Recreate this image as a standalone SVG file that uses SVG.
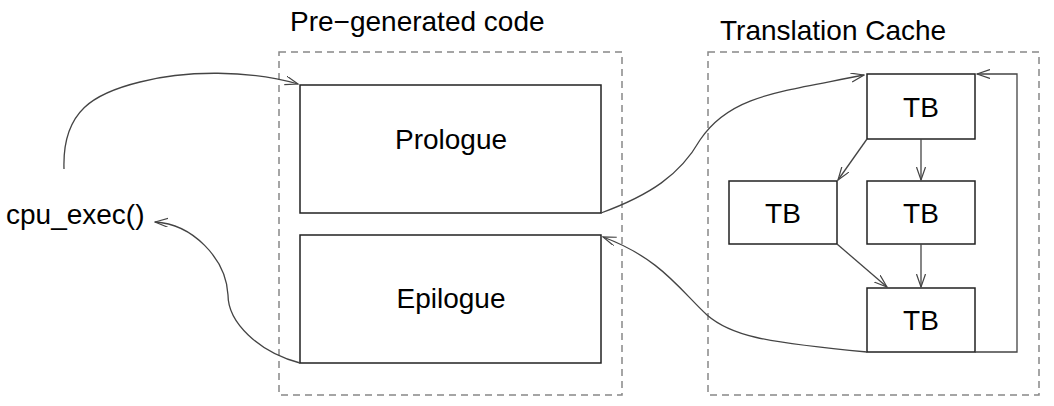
<svg xmlns="http://www.w3.org/2000/svg" width="1054" height="406" viewBox="0 0 1054 406">
<defs>
<marker id="arr" markerUnits="userSpaceOnUse" markerWidth="14" markerHeight="10" refX="13" refY="4.5" orient="auto">
<path d="M0,0 L13,4.5 L0,9" fill="none" stroke="#444" stroke-width="1.2"/>
</marker>
</defs>
<style>
text{font-family:"Liberation Sans",Arial,sans-serif;font-size:28px;fill:#000}
.c{text-anchor:middle}
.dash{fill:none;stroke:#888;stroke-width:1.5;stroke-dasharray:7 5}
.box{fill:#fff;stroke:#222;stroke-width:1.5}
.edge{fill:none;stroke:#444;stroke-width:1.3;marker-end:url(#arr)}
</style>
<rect width="1054" height="406" fill="#fff"/>
<g id="pregen">
<rect class="dash" x="279" y="52" width="343" height="343"/>
<text x="290" y="31">Pre−generated code</text>
</g>
<g id="cache">
<rect class="dash" x="708" y="52" width="331" height="343"/>
<text x="720" y="40">Translation Cache</text>
</g>
<g id="cpu_exec">
<text x="6" y="224">cpu_exec()</text>
</g>
<g id="prologue">
<rect class="box" x="300" y="85" width="301" height="128"/>
<text class="c" x="451" y="149">Prologue</text>
</g>
<g id="epilogue">
<rect class="box" x="300" y="235" width="301" height="128"/>
<text class="c" x="451" y="308">Epilogue</text>
</g>
<g id="tb1">
<rect class="box" x="867" y="74" width="108" height="65"/>
<text class="c" x="921" y="117">TB</text>
</g>
<g id="tb2">
<rect class="box" x="729" y="181" width="108" height="63"/>
<text class="c" x="783" y="223">TB</text>
</g>
<g id="tb3">
<rect class="box" x="867" y="181" width="108" height="63"/>
<text class="c" x="921" y="223">TB</text>
</g>
<g id="tb4">
<rect class="box" x="867" y="288" width="108" height="64"/>
<text class="c" x="921" y="330">TB</text>
</g>
<g id="connectors">
<path class="edge" d="M64,169 C62,110 95,93 140,82 C185,70 250,70 298,84"/>
<path class="edge" d="M300,363 C258,352 228,322 228,295 C226,258 192,224 155,222"/>
<path class="edge" d="M601,213 C650,195 680,175 700,140 C730,95 780,92 864,75"/>
<path class="edge" d="M867,352 C760,342 730,335 707,315 C680,290 660,258 603,237"/>
<path class="edge" d="M921,139 L921,180"/>
<path class="edge" d="M867,139 L838,180"/>
<path class="edge" d="M837,244 L887,287"/>
<path class="edge" d="M921,244 L921,287"/>
<path class="edge" d="M975,352 L1017,352 L1017,74 L977,74"/>
</g>
</svg>
